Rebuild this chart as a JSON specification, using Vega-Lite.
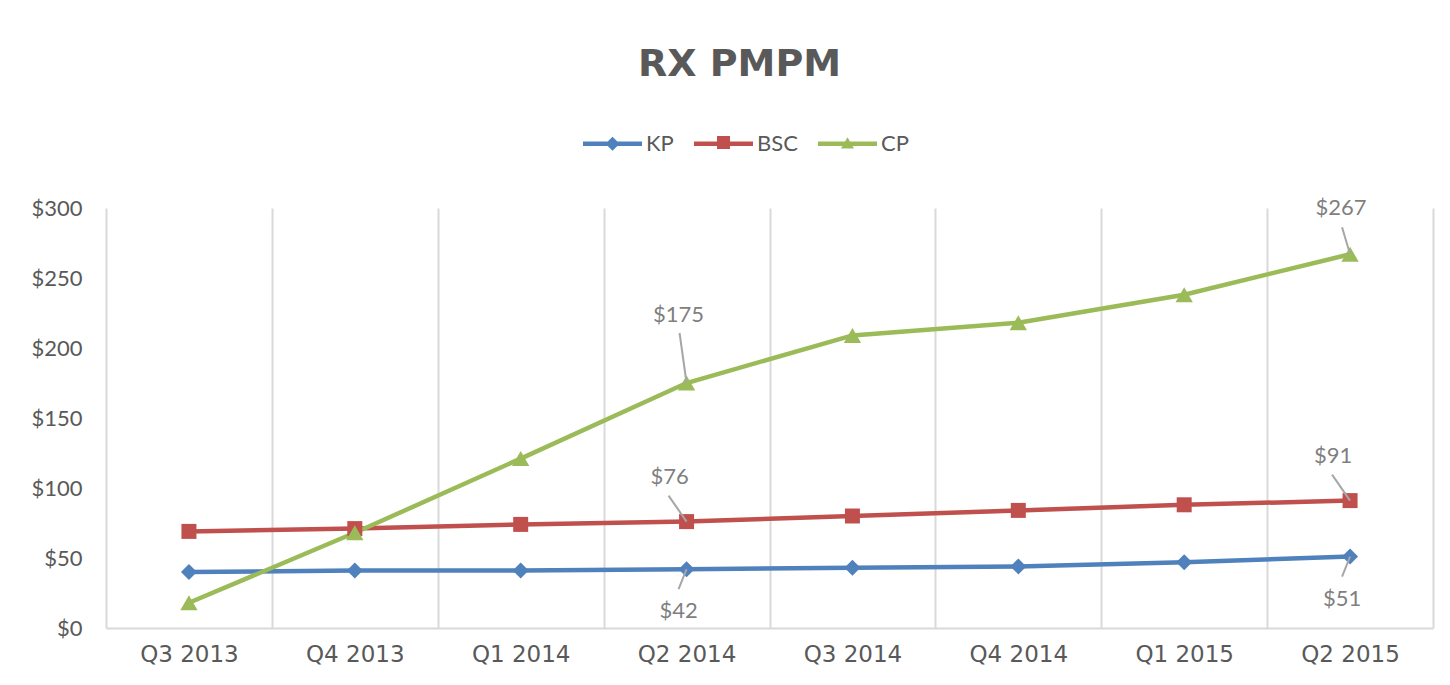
{
  "$schema": "https://vega.github.io/schema/vega-lite/v6.json",
  "width": 1327,
  "height": 420,
  "autosize": "none",
  "padding": {"left": 106, "top": 208, "right": 17, "bottom": 57},
  "background": "white",
  "title": {"text": "RX PMPM", "font": "DejaVu Sans", "fontSize": 38, "fontWeight": "bold", "color": "#595959", "anchor": "middle", "dx": -30, "offset": 0, "baseline": "alphabetic"},
  "config": {"view": {"stroke": null}},
  "data": {"values": [
    {"quarter": "Q3 2013", "series": "KP", "value": 40},
    {"quarter": "Q4 2013", "series": "KP", "value": 41},
    {"quarter": "Q1 2014", "series": "KP", "value": 41},
    {"quarter": "Q2 2014", "series": "KP", "value": 42},
    {"quarter": "Q3 2014", "series": "KP", "value": 43},
    {"quarter": "Q4 2014", "series": "KP", "value": 44},
    {"quarter": "Q1 2015", "series": "KP", "value": 47},
    {"quarter": "Q2 2015", "series": "KP", "value": 51},
    {"quarter": "Q3 2013", "series": "BSC", "value": 69},
    {"quarter": "Q4 2013", "series": "BSC", "value": 71},
    {"quarter": "Q1 2014", "series": "BSC", "value": 74},
    {"quarter": "Q2 2014", "series": "BSC", "value": 76},
    {"quarter": "Q3 2014", "series": "BSC", "value": 80},
    {"quarter": "Q4 2014", "series": "BSC", "value": 84},
    {"quarter": "Q1 2015", "series": "BSC", "value": 88},
    {"quarter": "Q2 2015", "series": "BSC", "value": 91},
    {"quarter": "Q3 2013", "series": "CP", "value": 18},
    {"quarter": "Q4 2013", "series": "CP", "value": 68},
    {"quarter": "Q1 2014", "series": "CP", "value": 121},
    {"quarter": "Q2 2014", "series": "CP", "value": 175},
    {"quarter": "Q3 2014", "series": "CP", "value": 209},
    {"quarter": "Q4 2014", "series": "CP", "value": 218},
    {"quarter": "Q1 2015", "series": "CP", "value": 238},
    {"quarter": "Q2 2015", "series": "CP", "value": 267}
  ]},
  "encoding": {
    "x": {"field": "quarter", "type": "nominal", "sort": null, "title": null,
      "scale": {"paddingInner": 0, "paddingOuter": 0},
      "axis": {"labelAngle": 0, "labelFont": "DejaVu Sans", "labelFontSize": 23, "labelColor": "#595959", "labelPadding": 15, "ticks": false, "tickBand": "extent", "grid": true, "gridColor": "#d9d9d9", "gridWidth": 2, "domainColor": "#d9d9d9", "domainWidth": 2}},
    "y": {"field": "value", "type": "quantitative", "title": null,
      "scale": {"domain": [0, 300], "nice": false},
      "axis": {"values": [0, 50, 100, 150, 200, 250, 300], "labelExpr": "'$' + datum.value", "labelFont": "Lato", "labelFontSize": 22, "labelColor": "#595959", "labelPadding": 24, "ticks": false, "domain": false, "grid": false}}
  },
  "layer": [
    {"mark": {"type": "line", "strokeWidth": 4.5},
     "encoding": {
       "detail": {"field": "series", "type": "nominal"},
       "color": {"condition": [{"test": "datum.series === 'KP'", "value": "#4f81bd"}, {"test": "datum.series === 'BSC'", "value": "#c0504d"}], "value": "#9bbb59"}}},
    {"transform": [{"filter": "datum.series === 'KP'"}],
     "mark": {"type": "point", "shape": "diamond", "filled": true, "size": 256, "opacity": 1, "color": "#4f81bd"}},
    {"transform": [{"filter": "datum.series === 'BSC'"}],
     "mark": {"type": "point", "shape": "square", "filled": true, "size": 225, "opacity": 1, "color": "#c0504d"}},
    {"transform": [{"filter": "datum.series === 'CP'"}],
     "mark": {"type": "point", "shape": "triangle-up", "filled": true, "size": 300, "opacity": 1, "color": "#9bbb59"}},
    {"mark": {"type": "point", "filled": true, "opacity": 0},
     "encoding": {
       "color": {"field": "series", "type": "nominal", "title": null,
         "scale": {"domain": ["KP", "BSC", "CP"], "range": ["#4f81bd", "#c0504d", "#9bbb59"]},
         "legend": {"orient": "none", "legendX": 477, "legendY": -94, "direction": "horizontal", "title": null, "padding": 0, "symbolSize": 3481, "symbolOpacity": 1, "symbolStrokeWidth": 0, "labelFont": "Lato", "labelFontSize": 22, "labelColor": "#595959", "labelOffset": 4, "columnPadding": 20}},
       "shape": {"field": "series", "type": "nominal", "title": null,
         "scale": {"domain": ["KP", "BSC", "CP"], "range": [
           "M-1,-0.08H1V0.08H-1Z M0,-0.24L0.24,0L0,0.24L-0.24,0Z",
           "M-1,-0.08H1V0.08H-1Z M-0.22,-0.26H0.22V0.18H-0.22Z",
           "M-1,-0.08H1V0.08H-1Z M0,-0.22L0.22,0.16L-0.22,0.16Z"]},
         "legend": {"orient": "none", "legendX": 477, "legendY": -94, "direction": "horizontal", "title": null, "padding": 0, "symbolSize": 3481, "symbolOpacity": 1, "symbolStrokeWidth": 0, "labelFont": "Lato", "labelFontSize": 22, "labelColor": "#595959", "labelOffset": 4, "columnPadding": 20}}
     }},
    {"transform": [{"filter": "datum.series === 'CP' && datum.quarter === 'Q2 2014'"}],
     "mark": {"type": "rule", "color": "#a6a6a6", "strokeWidth": 2, "x2Offset": -7, "y2Offset": -50},
     "encoding": {"x2": {"field": "quarter"}, "y2": {"field": "value"}}},
    {"transform": [{"filter": "datum.series === 'CP' && datum.quarter === 'Q2 2014'"}],
     "mark": {"type": "text", "font": "Lato", "fontSize": 22, "color": "#7f7f7f", "align": "center", "baseline": "alphabetic", "dx": -8, "dy": -61},
     "encoding": {"text": {"field": "value", "type": "quantitative", "format": "$.0f"}}},
    {"transform": [{"filter": "datum.series === 'CP' && datum.quarter === 'Q2 2015'"}],
     "mark": {"type": "rule", "color": "#a6a6a6", "strokeWidth": 2, "x2Offset": -8, "y2Offset": -27},
     "encoding": {"x2": {"field": "quarter"}, "y2": {"field": "value"}}},
    {"transform": [{"filter": "datum.series === 'CP' && datum.quarter === 'Q2 2015'"}],
     "mark": {"type": "text", "font": "Lato", "fontSize": 22, "color": "#7f7f7f", "align": "center", "baseline": "alphabetic", "dx": -9, "dy": -39},
     "encoding": {"text": {"field": "value", "type": "quantitative", "format": "$.0f"}}},
    {"transform": [{"filter": "datum.series === 'BSC' && (datum.quarter === 'Q2 2014' || datum.quarter === 'Q2 2015')"}],
     "mark": {"type": "rule", "color": "#a6a6a6", "strokeWidth": 2, "x2Offset": -18, "y2Offset": -26},
     "encoding": {"x2": {"field": "quarter"}, "y2": {"field": "value"}}},
    {"transform": [{"filter": "datum.series === 'BSC' && (datum.quarter === 'Q2 2014' || datum.quarter === 'Q2 2015')"}],
     "mark": {"type": "text", "font": "Lato", "fontSize": 22, "color": "#7f7f7f", "align": "center", "baseline": "alphabetic", "dx": -17, "dy": -38},
     "encoding": {"text": {"field": "value", "type": "quantitative", "format": "$.0f"}}},
    {"transform": [{"filter": "datum.series === 'KP' && (datum.quarter === 'Q2 2014' || datum.quarter === 'Q2 2015')"}],
     "mark": {"type": "rule", "color": "#a6a6a6", "strokeWidth": 2, "x2Offset": -8, "y2Offset": 20},
     "encoding": {"x2": {"field": "quarter"}, "y2": {"field": "value"}}},
    {"transform": [{"filter": "datum.series === 'KP' && (datum.quarter === 'Q2 2014' || datum.quarter === 'Q2 2015')"}],
     "mark": {"type": "text", "font": "Lato", "fontSize": 22, "color": "#7f7f7f", "align": "center", "baseline": "alphabetic", "dx": -8, "dy": 49},
     "encoding": {"text": {"field": "value", "type": "quantitative", "format": "$.0f"}}}
  ]
}
